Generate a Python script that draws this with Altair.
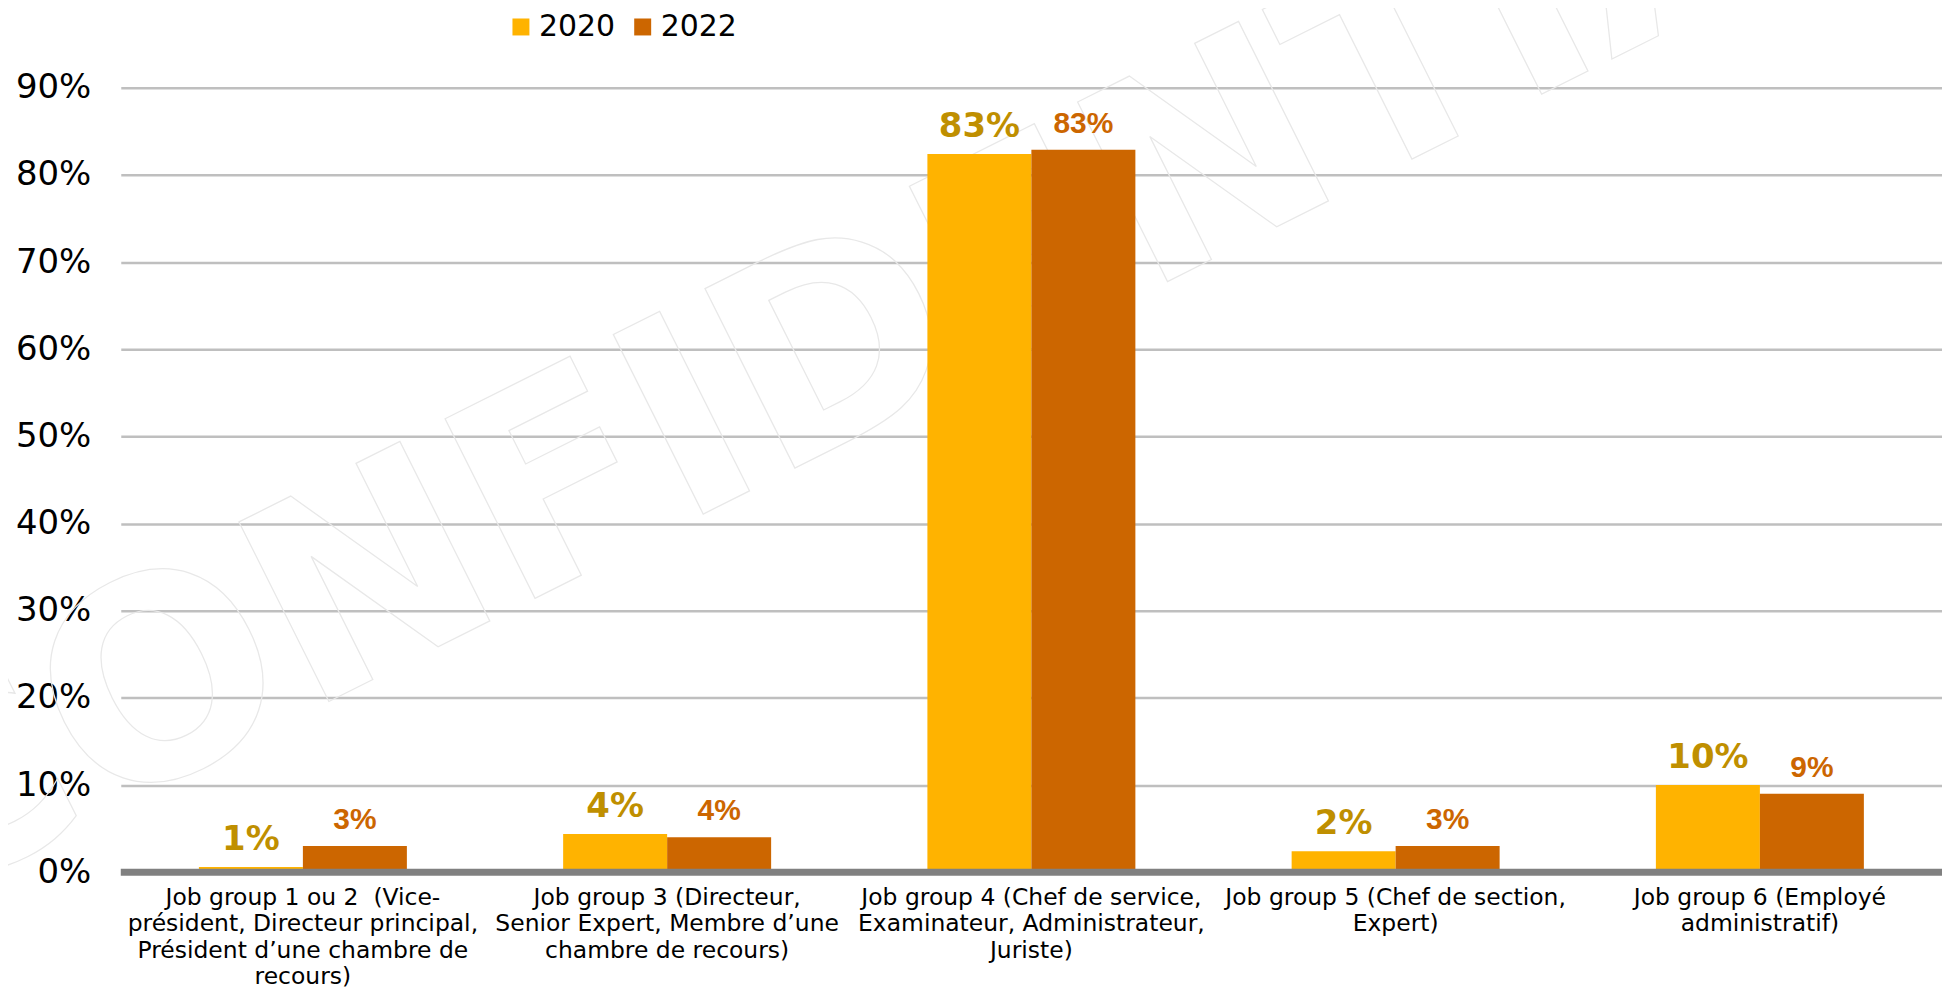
import altair as alt
import pandas as pd

# ---- data ----
categories = [
    "Job group 1 ou 2 \u00a0(Vice-|président, Directeur principal,|Président d’une chambre de|recours)",
    "Job group 3 (Directeur,|Senior Expert, Membre d’une|chambre de recours)",
    "Job group 4 (Chef de service,|Examinateur, Administrateur,|Juriste)",
    "Job group 5 (Chef de section,|Expert)",
    "Job group 6 (Employé|administratif)",
]
years = ["2020", "2022"]
values_2020 = [0.006, 0.044, 0.824, 0.024, 0.100]
values_2022 = [0.030, 0.040, 0.829, 0.030, 0.090]
labels_2020 = ["1%", "4%", "83%", "2%", "10%"]
labels_2022 = ["3%", "4%", "83%", "3%", "9%"]
y_ticks = [0.0, 0.1, 0.2, 0.3, 0.4, 0.5, 0.6, 0.7, 0.8, 0.9]
bar_colors = ["#FFB300", "#CC6600"]
watermark = ["CONFIDENTIAL"]

rows = []
for c, v, l in zip(categories, values_2020, labels_2020):
    rows.append({"category": c, "year": "2020", "value": v, "label": l})
for c, v, l in zip(categories, values_2022, labels_2022):
    rows.append({"category": c, "year": "2022", "value": v, "label": l})
df = pd.DataFrame(rows)

W, H = 1825, 786

x_enc = alt.X(
    "category:N",
    sort=categories,
    scale=alt.Scale(paddingInner=0.429, paddingOuter=0.2145),
    axis=alt.Axis(
        title=None,
        labelExpr="split(datum.label, '|')",
        labelAngle=0,
        labelFontSize=23.5,
        labelLineHeight=26.5,
        labelLimit=0,
        labelPadding=13,
        labelFont="DejaVu Sans",
        labelColor="#000000",
        domain=False,
        ticks=False,
        grid=False,
    ),
)
xoff = alt.XOffset("year:N", sort=years)
y_enc = alt.Y(
    "value:Q",
    scale=alt.Scale(domain=[0, 0.9], nice=False),
    axis=alt.Axis(
        values=y_ticks,
        format=".0%",
        title=None,
        grid=True,
        gridColor="#BFBFBF",
        gridWidth=2.5,
        domain=False,
        ticks=False,
        labelFontSize=34,
        labelFont="DejaVu Sans",
        labelColor="#000000",
        labelPadding=30,
    ),
)

wm = alt.Chart(pd.DataFrame({"t": watermark})).mark_text(
    angle=333.4,
    fontSize=276,
    font="DejaVu Sans",
    fontWeight="bold",
    align="left",
    baseline="alphabetic",
    fillOpacity=0,
    stroke="#E8E8E8",
    strokeWidth=1.3,
).encode(x=alt.value(-205), y=alt.value(822), text="t:N")

base = alt.Chart(df)

bars = base.mark_bar().encode(
    x=x_enc,
    xOffset=xoff,
    y=y_enc,
    color=alt.Color(
        "year:N",
        sort=years,
        scale=alt.Scale(domain=years, range=bar_colors),
        legend=alt.Legend(
            orient="none",
            legendX=386,
            legendY=-76,
            direction="horizontal",
            title=None,
            symbolType="square",
            symbolSize=289,
            symbolStrokeWidth=0,
            labelFontSize=30,
            labelFont="DejaVu Sans",
            labelColor="#000000",
            columnPadding=12,
            labelOffset=3,
            padding=0,
        ),
    ),
)

zero = alt.Chart(pd.DataFrame({"z": [0]})).mark_rule(color="#808080", strokeWidth=7).encode(
    y=alt.Y("z:Q")
)

lab20 = base.transform_filter(alt.datum.year == "2020").mark_text(
    font="DejaVu Sans", fontWeight="bold", fontSize=34, color="#BF8F00",
    baseline="alphabetic", dy=-17,
).encode(x=alt.X("category:N", sort=categories), xOffset=xoff, y="value:Q", text="label:N")

lab22 = base.transform_filter(alt.datum.year == "2022").mark_text(
    font="Liberation Sans", fontWeight="bold", fontSize=30, color="#CC6600",
    baseline="alphabetic", dy=-17,
).encode(x=alt.X("category:N", sort=categories), xOffset=xoff, y="value:Q", text="label:N")

chart = alt.layer(wm, bars, zero, lab20, lab22).properties(
    width=W,
    height=H,
    padding={"left": 113, "top": 79, "right": 0, "bottom": 117},
    autosize=alt.AutoSizeParams(type="none"),
    background="#FFFFFF",
).configure_view(strokeWidth=0)

chart.save("out.html", embed_options={"renderer": "svg", "actions": False})
